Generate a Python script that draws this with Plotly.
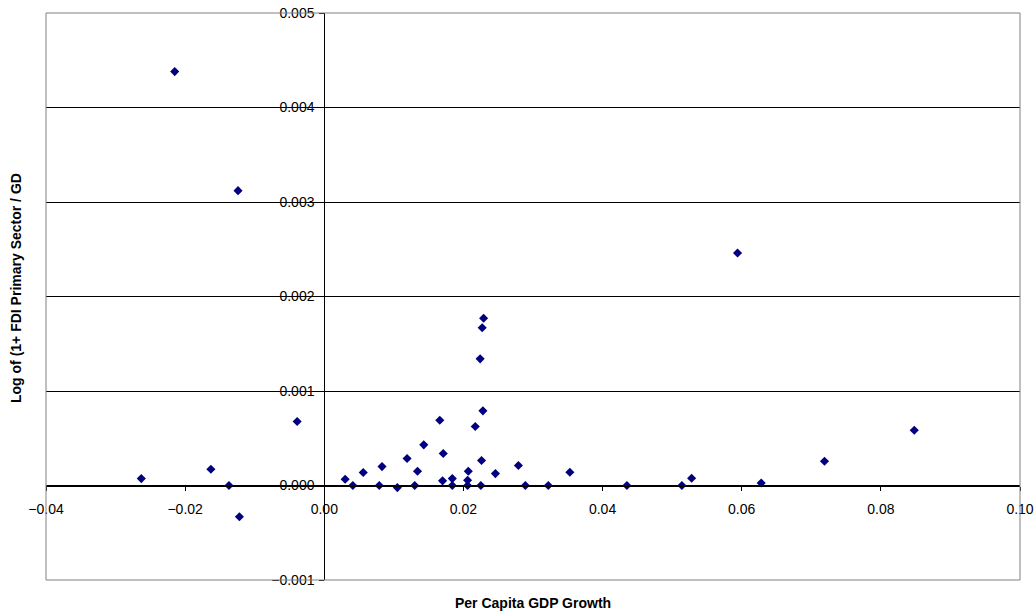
import plotly.graph_objects as go

# Data
gdp_growth = [
    -0.0215, -0.0124, -0.0263, -0.0163, -0.0137, -0.0122, -0.0039,
    0.0030, 0.0041, 0.0056, 0.0083, 0.0079, 0.0105, 0.0119, 0.0130,
    0.0134, 0.0143, 0.0166, 0.0171, 0.0170, 0.0184, 0.0184, 0.0207,
    0.0206, 0.0206, 0.0217, 0.0228, 0.0226, 0.0225, 0.0246, 0.0279,
    0.0289, 0.0322, 0.0353, 0.0435, 0.0229, 0.0227, 0.0224, 0.0514,
    0.0528, 0.0628, 0.0719, 0.0848, 0.0594,
]
fdi_primary = [
    0.00438, 0.00312, 0.000073, 0.000172, 0.0, -0.00033, 0.000677,
    0.000066, 0.0, 0.000137, 0.0002, 0.0, -0.000022, 0.000285, 0.0,
    0.000151, 0.00043, 0.00069, 0.000338, 0.000049, 0.000073, 0.0, 0.000151,
    0.000056, 0.0, 0.000624, 0.00079, 0.000264, 0.0, 0.000126, 0.000211,
    0.0, 0.0, 0.000141, 0.0, 0.00177, 0.00167, 0.00134, 0.0,
    0.000077, 0.000027, 0.000257, 0.000585, 0.00246,
]

x_range = [-0.04, 0.10]
y_range = [-0.001, 0.005]
x_title = "Per Capita GDP Growth"
y_title = "Log of (1+ FDI Primary Sector / GD"

FONT = "Arial, Liberation Sans, sans-serif"

fig = go.Figure()
fig.add_trace(go.Scatter(
    x=gdp_growth, y=fdi_primary, mode="markers",
    marker=dict(symbol="diamond", size=7, color="#000080",
                line=dict(width=0)),
    showlegend=False, hoverinfo="x+y",
))

# position of the crossing axes in paper coordinates
yaxis_pos = (0 - x_range[0]) / (x_range[1] - x_range[0])
xaxis_pos = (0 - y_range[0]) / (y_range[1] - y_range[0])

fig.update_layout(
    width=1036, height=616,
    margin=dict(l=46, r=16, t=13, b=36, autoexpand=False),
    paper_bgcolor="white", plot_bgcolor="white",
    font=dict(family=FONT, size=14, color="black"),
    xaxis=dict(
        range=x_range, dtick=0.02, tick0=0, tickformat=".2f",
        anchor="free", position=xaxis_pos, automargin=False,
        showline=True, linecolor="#000000", linewidth=1,
        ticks="outside", ticklen=4, tickcolor="#000000",
        ticklabelstandoff=7,
        showgrid=False, zeroline=False,
        tickfont=dict(family=FONT, size=14, color="black"),
    ),
    yaxis=dict(
        range=y_range, dtick=0.001, tick0=0, tickformat=".3f",
        anchor="free", position=yaxis_pos, automargin=False,
        showline=True, linecolor="#000000", linewidth=1,
        ticks="outside", ticklen=5, tickcolor="#000000",
        ticklabelstandoff=2,
        showgrid=True, gridcolor="#000000", gridwidth=1,
        zeroline=False,
        tickfont=dict(family=FONT, size=14, color="black"),
    ),
    shapes=[dict(type="rect", xref="paper", yref="paper",
                 x0=0, x1=1, y0=0, y1=1,
                 line=dict(color="#808080", width=1), layer="above")],
    annotations=[
        dict(text=f"<b>{x_title}</b>", xref="paper", yref="paper",
             x=0.5, y=0, xanchor="center", yanchor="middle", yshift=-23,
             showarrow=False, font=dict(family=FONT, size=14, color="black")),
        dict(text=f"<b>{y_title}</b>", xref="paper", yref="paper",
             x=0, y=0.515, xanchor="center", yanchor="middle", xshift=-30,
             textangle=-90, showarrow=False,
             font=dict(family=FONT, size=14, color="black")),
    ],
)

fig.write_html("out.html")
